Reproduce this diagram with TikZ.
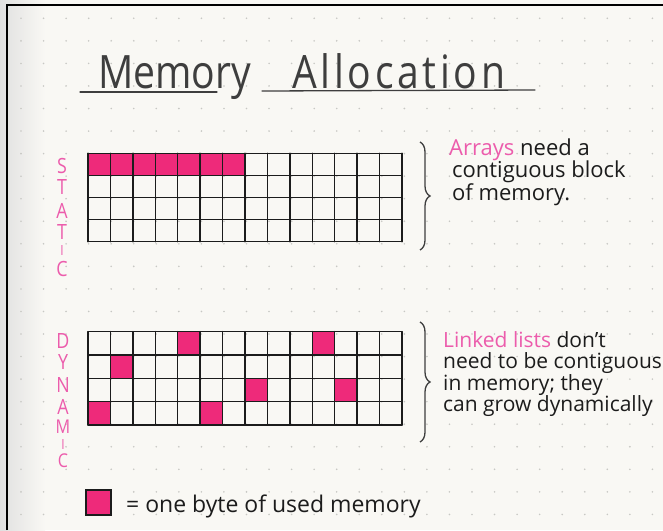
\documentclass[tikz,border=0pt]{standalone}
\usepackage{fontspec}
\setmainfont{Open Sans}
\newfontfamily\hand[FakeStretch=0.85]{Open Sans}
\newfontfamily\handwide[LetterSpace=8,FakeStretch=0.85]{Open Sans}
\usetikzlibrary{decorations.pathreplacing}
\definecolor{paper}{RGB}{249,248,244}
\definecolor{dotc}{RGB}{200,200,196}
\definecolor{ink}{RGB}{28,28,28}
\definecolor{pinkfill}{RGB}{238,42,122}
\definecolor{pinktext}{RGB}{236,92,172}
\tikzset{
  gridline/.style={ink, line width=1.5pt, line cap=round},
  cellfill/.style={fill=pinkfill},
  body/.style={anchor=base west, inner sep=0pt, text=ink, font=\fontsize{22}{24}\selectfont},
  bodyd/.style={anchor=base west, inner sep=0pt, text=ink, font=\fontsize{21}{24}\selectfont},
  vlet/.style={inner sep=0pt, text=pinktext, font=\hand\fontsize{21}{21}\selectfont},
  vletsm/.style={inner sep=0pt, text=pinktext, font=\hand\fontsize{19}{19}\selectfont},
  vleti/.style={inner sep=0pt, text=pinktext, font=\hand\fontsize{14}{14}\selectfont},
  titletext/.style={anchor=base west, inner sep=0pt, text=ink!85, font=\hand\fontsize{46}{50}\selectfont},
  underl/.style={ink!85, line width=1.3pt, line cap=round},
  bracestyle/.style={ink!85, line width=1.3pt, decorate, decoration={brace, amplitude=10pt}}
}
\begin{document}
\begin{tikzpicture}[x=1pt,y=-1pt]
\useasboundingbox (0,0) rectangle (663,530);
\fill[paper] (0,0) rectangle (663,530);
\shade[left color=black!12, right color=paper, draw=none] (0,0) rectangle (45,530);
% dot grid
\foreach \i in {0,...,28}{
  \foreach \j in {0,...,22}{
    \fill[dotc] (21+22.55*\i, 18.3+22.55*\j) circle (0.9);
  }
}
% page border
\draw[black, line width=2.5pt] (7,530) -- (7,5) -- (663,5);

% title
\node[titletext] (tmem) at (98,88) {Memory};
\node[titletext, font=\handwide\fontsize{46}{50}\selectfont] (talloc) at (292,88) {Allocation};
\draw[underl] (80,92) -- (217,92);
\draw[underl] (262,91) -- (535,90);

% STATIC grid
\foreach \c in {0,...,6}{
  \fill[cellfill] (88+22.43*\c,153.3) rectangle ++(22.43,22.1);
}
\foreach \c in {0,...,14}{
  \draw[gridline] (88+22.43*\c,153.3) -- ++(0,88.4);
}
\foreach \r in {0,...,4}{
  \draw[gridline] (88,153.3+22.1*\r) -- ++(314,0);
}

% DYNAMIC grid
\foreach \c/\r in {4/0,10/0,1/1,7/2,11/2,0/3,5/3}{
  \fill[cellfill] (88+22.43*\c,331.7+23.3*\r) rectangle ++(22.43,23.3);
}
\foreach \c in {0,...,14}{
  \draw[gridline] (88+22.43*\c,331.7) -- ++(0,93.2);
}
\foreach \r in {0,...,4}{
  \draw[gridline] (88,331.7+23.3*\r) -- ++(314,0);
}

% vertical labels
\node[vlet] (s1) at (62,166) {S};
\node[vlet] (s2) at (62,187) {T};
\node[vlet] (s3) at (62,211) {A};
\node[vlet] (s4) at (62,232) {T};
\node[vleti] (s5) at (62,250) {I};
\node[vlet] (s6) at (62,269) {C};

\node[vlet] (d1) at (63,341) {D};
\node[vlet] (d2) at (63,362) {Y};
\node[vlet] (d3) at (63,385) {N};
\node[vlet] (d4) at (63,407) {A};
\node[vletsm] (d5) at (63,427) {M};
\node[vleti] (d6) at (63,444) {I};
\node[vletsm] (d7) at (63,461) {C};

% braces
\draw[bracestyle] (420,142) -- (420,250);
\draw[bracestyle] (420,322) -- (420,442);

% static text
\node[body] (a1) at (449,155) {{\color{pinktext}Arrays} need a};
\node[body] (a2) at (452,177) {contiguous block};
\node[body] (a3) at (452,200) {of memory.};

% dynamic text
\node[bodyd] (l1) at (443,347) {{\color{pinktext}Linked lists} don't};
\node[bodyd] (l2) at (443,368) {need to be contiguous};
\node[bodyd] (l3) at (443,390) {in memory; they};
\node[bodyd] (l4) at (443,411) {can grow dynamically};

% legend
\fill[pinkfill] (86,490) rectangle (111,515);
\draw[ink, line width=1.1pt] (86,490) rectangle (111,515);
\node[body, font=\fontsize{23}{26}\selectfont] (leg) at (126,512) {= one byte of used memory};
\end{tikzpicture}
\end{document}
